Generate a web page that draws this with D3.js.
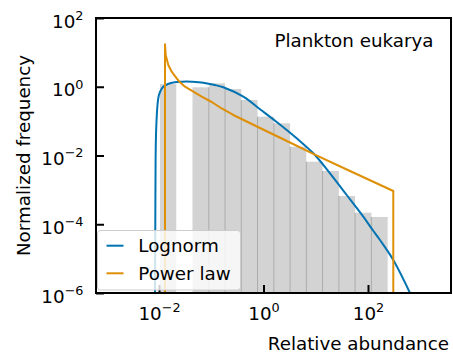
<!DOCTYPE html>
<html>
<head>
<meta charset="utf-8">
<script src="https://cdn.jsdelivr.net/npm/d3@7"></script>
<style>
  html, body { margin: 0; padding: 0; background: #fff; }
  svg { display: block; font-family: "DejaVu Sans", sans-serif; }
</style>
</head>
<body>
<svg id="chart" width="453" height="356"></svg>
<script>
// Histogram of relative abundances (log-spaced bins) and normalized frequencies
const binEdges = [0.01045, 0.02138, 0.04375, 0.0897, 0.1837, 0.3758, 0.7691, 1.578,
                  3.228, 6.607, 13.52, 27.67, 56.62, 116.1, 237.7];
const binFreq = [1.20, 0, 0.964, 1.26, 0.86, 0.412, 0.1346, 0.0865,
                 0.01803, 0.00661, 0.00354, 0.000664, 0.000217, 0.000163];

// Fitted lognormal density
const lognormX = [0.008383, 0.008458, 0.008533, 0.008608, 0.008762, 0.009076, 0.009361,
                  0.009781, 0.010449, 0.01193, 0.01487, 0.01998, 0.02719, 0.03389, 0.04224,
                  0.07046, 0.1179, 0.1701, 0.4106, 0.8959, 1.789, 4.319, 8.977, 18.74,
                  39.11, 81.28, 123.0, 169.7, 304.9, 636.6];
const lognormY = [1e-6, 1.782e-5, 5.076e-4, 7.395e-3, 0.03948, 0.1508, 0.2945,
                  0.5033, 0.7036, 0.9833, 1.202, 1.347, 1.403, 1.421, 1.403,
                  1.312, 1.124, 0.9638, 0.5135, 0.2107, 0.0943, 0.03165, 0.01159, 0.003035,
                  7.094e-4, 1.658e-4, 6.80e-5, 3.48e-5, 9.12e-6, 1e-6];

// Fitted power-law density (bounded support)
const powerX = [0.01303, 0.01303, 0.01343, 0.01507, 0.01749, 0.02182, 0.02522, 0.03145,
                0.04224, 0.06567, 0.1020, 0.1585, 0.2642, 0.8570, 3.216, 9.380, 45.23,
                304.9, 304.9];
const powerY = [1e-6, 17.17, 8.385, 4.293, 2.740, 1.761, 1.347, 1.003,
                0.7675, 0.5135, 0.3601, 0.2330, 0.1508, 0.0631, 0.02388, 0.01083, 0.003540,
                0.000928, 1e-6];

const xTickExp = [-2, 0, 2];
const yTickExp = [-6, -4, -2, 0, 2];

const seriesNames = ["Lognorm", "Power law"];
const seriesColors = ["#0173b2", "#de8f05"];

const fontSize = 18.3;
const svg = d3.select("#chart");
const plotLeft = 96, plotRight = 451, plotTop = 18, plotBottom = 293;

const x = d3.scaleLog().domain([Math.pow(10, -3.2057), Math.pow(10, 3.5885)]).range([plotLeft, plotRight]);
const y = d3.scaleLog().domain([1e-6, 1e2]).range([plotBottom, plotTop]);

svg.append("defs").append("clipPath").attr("id", "plot-clip")
  .append("rect").attr("x", plotLeft).attr("y", plotTop)
  .attr("width", plotRight - plotLeft).attr("height", plotBottom - plotTop);

const plot = svg.append("g").attr("clip-path", "url(#plot-clip)");

// histogram bars
const bins = binFreq.map((v, i) => ({ x0: binEdges[i], x1: binEdges[i + 1], v }))
  .filter(d => d.v > 0);
plot.selectAll("rect.bar").data(bins).join("rect")
  .attr("class", "bar")
  .attr("x", d => x(d.x0))
  .attr("width", d => x(d.x1) - x(d.x0))
  .attr("y", d => y(d.v))
  .attr("height", d => plotBottom + 5 - y(d.v))
  .attr("fill", "#d3d3d3");

// dividers between neighbouring bars
const dividers = [];
for (let i = 1; i < binFreq.length; i++) {
  if (binFreq[i - 1] > 0 && binFreq[i] > 0) {
    dividers.push({ e: binEdges[i], v: Math.min(binFreq[i - 1], binFreq[i]) });
  }
}
plot.selectAll("line.div").data(dividers).join("line")
  .attr("class", "div")
  .attr("x1", d => x(d.e)).attr("x2", d => x(d.e))
  .attr("y1", d => y(d.v)).attr("y2", plotBottom + 5)
  .attr("stroke", "#ababab").attr("stroke-width", 1);

// fitted curves
const lognormLine = d3.line().x(d => x(d[0])).y(d => y(d[1]))
  .curve(d3.curveCatmullRom.alpha(0.5));
plot.append("path")
  .datum(lognormX.map((v, i) => [v, lognormY[i]]))
  .attr("d", lognormLine)
  .attr("fill", "none").attr("stroke", seriesColors[0]).attr("stroke-width", 2);

const powerLine = d3.line().x(d => x(d[0])).y(d => y(d[1]));
plot.append("path")
  .datum(powerX.map((v, i) => [v, powerY[i]]))
  .attr("d", powerLine)
  .attr("fill", "none").attr("stroke", seriesColors[1]).attr("stroke-width", 2)
  .attr("stroke-linejoin", "round");

// axes with inward ticks
function expLabel(sel, exps) {
  sel.each(function (d, i) {
    const t = d3.select(this);
    t.text(null);
    t.append("tspan").text("10");
    const e = exps[i];
    t.append("tspan").attr("dy", -7.9).attr("font-size", fontSize * 0.7)
      .text(e < 0 ? "\u2212" + Math.abs(e) : String(e));
  });
}

const xAxis = svg.append("g").attr("transform", `translate(0,${plotBottom})`)
  .call(d3.axisBottom(x).tickValues(xTickExp.map(e => Math.pow(10, e)))
    .tickSizeInner(-8).tickSizeOuter(0));
xAxis.select(".domain").remove();
xAxis.selectAll(".tick line").attr("stroke", "#000").attr("stroke-width", 2);
xAxis.selectAll(".tick text")
  .attr("y", 27).attr("dy", null)
  .attr("font-size", fontSize).attr("fill", "#000")
  .attr("font-family", "DejaVu Sans")
  .call(expLabel, xTickExp);

const yAxis = svg.append("g").attr("transform", `translate(${plotLeft},0)`)
  .call(d3.axisLeft(y).tickValues(yTickExp.map(e => Math.pow(10, e)))
    .tickSizeInner(-8).tickSizeOuter(0));
yAxis.select(".domain").remove();
yAxis.selectAll(".tick line").attr("stroke", "#000").attr("stroke-width", 2);
yAxis.selectAll(".tick text")
  .attr("x", -12.5).attr("dy", null).attr("y", 9.2)
  .attr("text-anchor", "end")
  .attr("font-size", fontSize).attr("fill", "#000")
  .attr("font-family", "DejaVu Sans")
  .call(expLabel, yTickExp);

// frame
svg.append("rect")
  .attr("x", plotLeft).attr("y", plotTop)
  .attr("width", plotRight - plotLeft).attr("height", plotBottom - plotTop)
  .attr("fill", "none").attr("stroke", "#000").attr("stroke-width", 2);

// panel title
svg.append("text")
  .attr("x", 433.5).attr("y", 47.3)
  .attr("text-anchor", "end").attr("font-size", fontSize).attr("fill", "#000")
  .text("Plankton eukarya");

// axis titles
svg.append("text")
  .attr("x", 449).attr("y", 350)
  .attr("text-anchor", "end").attr("font-size", fontSize).attr("fill", "#000")
  .text("Relative abundance");

svg.append("text")
  .attr("transform", `translate(30,${(plotTop + plotBottom) / 2}) rotate(-90)`)
  .attr("text-anchor", "middle").attr("font-size", fontSize).attr("fill", "#000")
  .text("Normalized frequency");

// legend
const legend = svg.append("g");
legend.append("rect")
  .attr("x", 97.5).attr("y", 230.5).attr("width", 143).attr("height", 59.5)
  .attr("rx", 3).attr("ry", 3)
  .attr("fill", "#fff").attr("fill-opacity", 0.8)
  .attr("stroke", "#cccccc").attr("stroke-width", 1);

const rows = legend.selectAll("g.row").data(seriesNames).join("g")
  .attr("class", "row")
  .attr("transform", (d, i) => `translate(0,${245.7 + i * 27.6})`);
rows.append("line")
  .attr("x1", 106.5).attr("x2", 123.5).attr("y1", 0).attr("y2", 0)
  .attr("stroke", (d, i) => seriesColors[i]).attr("stroke-width", 2);
rows.append("text")
  .attr("x", 138.3).attr("y", 6.2)
  .attr("font-size", fontSize).attr("fill", "#000")
  .text(d => d);
</script>
</body>
</html>
